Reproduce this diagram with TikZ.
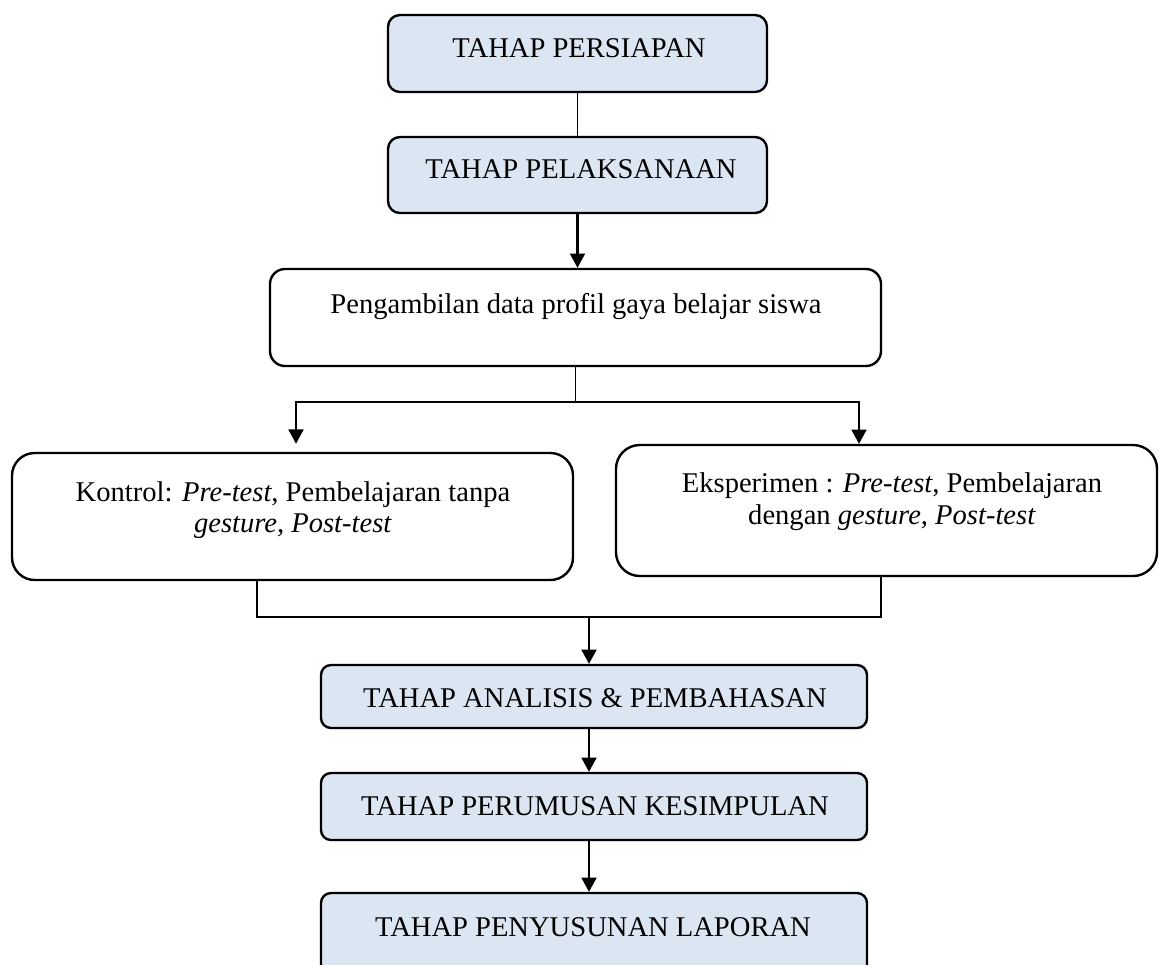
\documentclass[tikz,border=0pt]{standalone}
\usepackage{fontspec}
\setmainfont{Liberation Serif}
\usetikzlibrary{arrows.meta,calc}
\definecolor{boxblue}{RGB}{220,230,242}
\begin{document}
\begin{tikzpicture}[x=0.42pt,y=-0.42pt,
  bluebox/.style={draw=black,line width=1pt,fill=boxblue,rounded corners=#1,inner sep=0pt},
  whitebox/.style={draw=black,line width=1pt,fill=white,rounded corners=#1,inner sep=0pt},
  txt/.style={font=\fontsize{12pt}{14pt}\selectfont,inner sep=0pt,anchor=base},
  arr/.style={line width=0.85pt,-{Triangle[width=6.3pt,length=6pt]}},
  thinline/.style={line width=0.45pt},
  thickline/.style={line width=0.85pt}]
\useasboundingbox (0,0) rectangle (1159,964);

% boxes
\node[bluebox=5pt, minimum width=379*0.42pt, minimum height=77*0.42pt] (b1) at (577.5,53.5) {};
\node[bluebox=5pt, minimum width=379*0.42pt, minimum height=76*0.42pt] (b2) at (577.5,175) {};
\node[whitebox=6.3pt, minimum width=611*0.42pt, minimum height=97*0.42pt] (b3) at (575.5,317.5) {};
\node[whitebox=9.5pt, minimum width=561*0.42pt, minimum height=127*0.42pt] (L) at (292.5,516.5) {};
\node[whitebox=10pt, minimum width=541*0.42pt, minimum height=131*0.42pt] (R) at (886.5,510.5) {};
\node[bluebox=4.2pt, minimum width=546*0.42pt, minimum height=63*0.42pt] (b4) at (594,696.5) {};
\node[bluebox=4.2pt, minimum width=546*0.42pt, minimum height=67*0.42pt] (b5) at (594,806.5) {};
\node[bluebox=4.2pt, minimum width=546*0.42pt, minimum height=82*0.42pt] (b6) at (594,934) {};

% texts
\node[txt] (t1) at (579,57) {TAHAP PERSIAPAN};
\node[txt] (t2) at (581,178) {TAHAP PELAKSANAAN};
\node[txt] (t3) at (576,313) {Pengambilan data profil gaya belajar siswa};
\node[txt] (tl1) at (293,501) {Kontrol: \textit{Pre-test}, Pembelajaran tanpa};
\node[txt] (tl2) at (293,532) {\textit{gesture, Post-test}};
\node[txt] (tr1) at (892,492) {Eksperimen : \textit{Pre-test}, Pembelajaran};
\node[txt] (tr2) at (892,524) {dengan \textit{gesture, Post-test}};
\node[txt] (t4) at (595,707) {TAHAP ANALISIS \& PEMBAHASAN};
\node[txt] (t5) at (595,815) {TAHAP PERUMUSAN KESIMPULAN};
\node[txt] (t6) at (593,936) {TAHAP PENYUSUNAN LAPORAN};

% connectors
\draw[thinline] (b1.south) -- (b2.north);
\draw[arr] (b2.south) -- (b2.south |- b3.north);
\coordinate (split) at (575.5,402);
\coordinate (sl) at (296,402);
\coordinate (sr) at (859,402);
\draw[thinline] (b3.south) -- (split);
\draw[arr, shorten >=3.4pt] (split) -- (sl) -- (sl |- L.north);
\draw[arr] (split) -- (sr) -- (sr |- R.north);
\coordinate (jl) at (257,617);
\coordinate (jr) at (881,617);
\coordinate (jm) at (589,617);
\draw[thinline] (L.south -| jl) -- (jl) -- (jr) -- (R.south -| jr);
\draw[arr] (jm) -- (jm |- b4.north);
\draw[arr] (jm |- b4.south) -- (jm |- b5.north);
\draw[arr] (jm |- b5.south) -- (jm |- b6.north);
\end{tikzpicture}
\end{document}
